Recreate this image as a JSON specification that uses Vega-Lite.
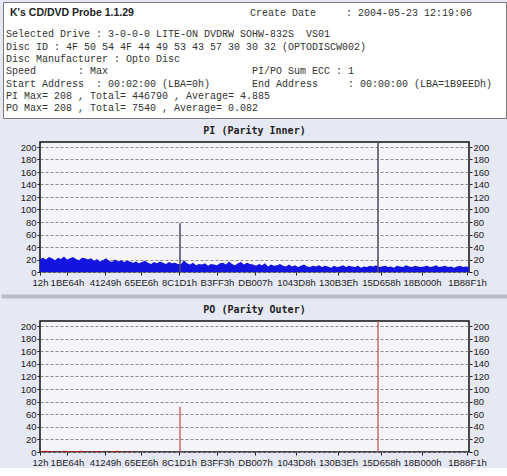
{
  "$schema": "https://vega.github.io/schema/vega-lite/v6.json",
  "background": "#e6e8f3",
  "padding": {"left": 1, "top": 1, "right": 0, "bottom": 0},
  "spacing": 24,
  "center": true,
  "bounds": "flush",
  "config": {
    "view": {"stroke": "#111", "strokeWidth": 1.5, "fill": "#f4f4f9"},
    "axis": {"labelFont": "Liberation Sans", "labelFontSize": 9.5, "labelColor": "#222", "tickColor": "#222", "tickSize": 3, "labelPadding": 1, "domain": false, "grid": false, "title": null}
  },
  "datasets": {
    "pi": [
      {"pos":0,"pi":21},{"pos":3,"pi":23},{"pos":6,"pi":20},{"pos":9,"pi":24},{"pos":12,"pi":22},{"pos":15,"pi":19},{"pos":18,"pi":23},{"pos":21,"pi":21},{"pos":24,"pi":25},{"pos":27,"pi":20},{"pos":30,"pi":22},{"pos":33,"pi":24},{"pos":36,"pi":21},{"pos":39,"pi":19},{"pos":42,"pi":23},{"pos":45,"pi":22},
      {"pos":48,"pi":20},{"pos":51,"pi":22},{"pos":54,"pi":18},{"pos":57,"pi":21},{"pos":60,"pi":17},{"pos":63,"pi":19},{"pos":66,"pi":22},{"pos":69,"pi":18},{"pos":72,"pi":16},{"pos":75,"pi":20},{"pos":78,"pi":17},{"pos":81,"pi":19},{"pos":84,"pi":16},{"pos":87,"pi":18},{"pos":90,"pi":17},
      {"pos":93,"pi":15},{"pos":96,"pi":17},{"pos":99,"pi":14},{"pos":102,"pi":16},{"pos":105,"pi":18},{"pos":108,"pi":15},{"pos":111,"pi":13},{"pos":114,"pi":16},{"pos":117,"pi":14},{"pos":120,"pi":17},{"pos":123,"pi":15},{"pos":126,"pi":13},{"pos":129,"pi":16},{"pos":132,"pi":14},{"pos":135,"pi":15},{"pos":138,"pi":13},
      {"pos":141,"pi":13},{"pos":144,"pi":19},{"pos":147,"pi":14},{"pos":150,"pi":12},{"pos":153,"pi":15},{"pos":156,"pi":11},{"pos":159,"pi":13},{"pos":162,"pi":12},{"pos":165,"pi":14},{"pos":168,"pi":10},{"pos":171,"pi":13},{"pos":174,"pi":12},{"pos":177,"pi":11},{"pos":180,"pi":14},{"pos":183,"pi":15},{"pos":186,"pi":12},{"pos":189,"pi":17},{"pos":192,"pi":13},{"pos":195,"pi":11},{"pos":198,"pi":14},{"pos":201,"pi":16},{"pos":204,"pi":12},{"pos":207,"pi":15},{"pos":210,"pi":13},
      {"pos":213,"pi":12},{"pos":216,"pi":10},{"pos":219,"pi":13},{"pos":222,"pi":11},{"pos":225,"pi":14},{"pos":228,"pi":9},{"pos":231,"pi":12},{"pos":234,"pi":10},{"pos":237,"pi":11},{"pos":240,"pi":13},{"pos":243,"pi":10},{"pos":246,"pi":9},{"pos":249,"pi":12},
      {"pos":252,"pi":9},{"pos":255,"pi":11},{"pos":258,"pi":8},{"pos":261,"pi":10},{"pos":264,"pi":12},{"pos":267,"pi":9},{"pos":270,"pi":8},{"pos":273,"pi":10},{"pos":276,"pi":9},{"pos":279,"pi":11},{"pos":282,"pi":8},{"pos":285,"pi":10},{"pos":288,"pi":9},{"pos":291,"pi":7},{"pos":294,"pi":10},{"pos":297,"pi":8},{"pos":300,"pi":9},{"pos":303,"pi":11},{"pos":306,"pi":8},{"pos":309,"pi":10},
      {"pos":312,"pi":9},{"pos":315,"pi":8},{"pos":318,"pi":10},{"pos":321,"pi":7},{"pos":324,"pi":9},{"pos":327,"pi":8},{"pos":330,"pi":10},{"pos":333,"pi":9},{"pos":336,"pi":11},{"pos":339,"pi":8},{"pos":342,"pi":9},{"pos":345,"pi":10},{"pos":348,"pi":8},{"pos":351,"pi":9},{"pos":354,"pi":7},{"pos":357,"pi":10},{"pos":360,"pi":9},{"pos":363,"pi":8},{"pos":366,"pi":11},{"pos":369,"pi":9},
      {"pos":372,"pi":8},{"pos":375,"pi":10},{"pos":378,"pi":9},{"pos":381,"pi":8},{"pos":384,"pi":9},{"pos":387,"pi":10},{"pos":390,"pi":8},{"pos":393,"pi":9},{"pos":396,"pi":11},{"pos":399,"pi":8},{"pos":402,"pi":9},{"pos":405,"pi":10},{"pos":408,"pi":8},{"pos":411,"pi":9},{"pos":414,"pi":7},{"pos":417,"pi":9},{"pos":420,"pi":10},{"pos":423,"pi":8},{"pos":426,"pi":9},{"pos":429,"pi":8}
    ],
    "pi_spikes": [{"pos":140,"pi":78},{"pos":338,"pi":208}],
    "po": [
      {"pos":0,"po":1},{"pos":6,"po":2},{"pos":12,"po":1},{"pos":18,"po":0},{"pos":24,"po":2},{"pos":30,"po":1},{"pos":36,"po":1},{"pos":42,"po":2},{"pos":48,"po":0},{"pos":54,"po":1},{"pos":60,"po":1},{"pos":66,"po":0},{"pos":72,"po":1},{"pos":78,"po":2},{"pos":84,"po":0},{"pos":90,"po":1},
      {"pos":96,"po":0},{"pos":102,"po":0},{"pos":108,"po":0},{"pos":114,"po":0},{"pos":120,"po":0},{"pos":126,"po":0},{"pos":132,"po":0},{"pos":138,"po":0},{"pos":144,"po":0},{"pos":150,"po":0},{"pos":156,"po":0},{"pos":162,"po":0},{"pos":168,"po":0},{"pos":174,"po":0},{"pos":180,"po":0},{"pos":186,"po":0},{"pos":192,"po":0},{"pos":198,"po":0},{"pos":204,"po":0},{"pos":210,"po":0},{"pos":216,"po":0},{"pos":222,"po":0},{"pos":228,"po":0},{"pos":234,"po":0},{"pos":240,"po":0},{"pos":246,"po":0},{"pos":252,"po":0},{"pos":258,"po":0},{"pos":264,"po":0},{"pos":270,"po":0},{"pos":276,"po":0},{"pos":282,"po":0},{"pos":288,"po":0},{"pos":294,"po":0},{"pos":300,"po":0},{"pos":306,"po":0},{"pos":312,"po":0},{"pos":318,"po":0},{"pos":324,"po":0},{"pos":330,"po":0},{"pos":336,"po":0},{"pos":342,"po":0},{"pos":348,"po":0},{"pos":354,"po":0},{"pos":360,"po":0},{"pos":366,"po":0},{"pos":372,"po":0},{"pos":378,"po":0},{"pos":384,"po":0},{"pos":390,"po":0},{"pos":396,"po":0},{"pos":402,"po":0},{"pos":408,"po":0},{"pos":414,"po":0},{"pos":420,"po":0},{"pos":426,"po":0},{"pos":429,"po":0}
    ],
    "po_spikes": [{"pos":140,"po":72},{"pos":338,"po":208}]
  },
  "vconcat": [
    {
      "width": 503,
      "height": 116,
      "view": {"fill": "#ffffff", "stroke": "#7a7a7a", "strokeWidth": 1},
      "layer": [
        {
          "data": {"values": [
            {"line": 1, "text": "Selected Drive : 3-0-0-0 LITE-ON DVDRW SOHW-832S\u00a0\u00a0VS01"},
            {"line": 2, "text": "Disc ID : 4F 50 54 4F 44 49 53 43 57 30 30 32 (OPTODISCW002)"},
            {"line": 3, "text": "Disc Manufacturer : Opto Disc"},
            {"line": 4, "text": "Speed\u00a0\u00a0\u00a0\u00a0\u00a0\u00a0\u00a0: Max\u00a0\u00a0\u00a0\u00a0\u00a0\u00a0\u00a0\u00a0\u00a0\u00a0\u00a0\u00a0\u00a0\u00a0\u00a0\u00a0\u00a0\u00a0\u00a0\u00a0\u00a0\u00a0\u00a0\u00a0PI/PO Sum ECC : 1"},
            {"line": 5, "text": "Start Address\u00a0\u00a0: 00:02:00 (LBA=0h)\u00a0\u00a0\u00a0\u00a0\u00a0\u00a0\u00a0End Address\u00a0\u00a0\u00a0\u00a0\u00a0: 00:00:00 (LBA=1B9EEDh)"},
            {"line": 6, "text": "PI Max= 208 , Total= 446790 , Average= 4.885"},
            {"line": 7, "text": "PO Max= 208 , Total= 7540 , Average= 0.082"}
          ]},
          "mark": {"type": "text", "align": "left", "baseline": "middle", "x": 3, "font": "Liberation Mono", "fontSize": 10, "color": "#333"},
          "encoding": {
            "y": {"field": "line", "type": "quantitative", "scale": {"domain": [-1.62, 7.79], "reverse": true, "nice": false, "zero": false}, "axis": null},
            "text": {"field": "text"}
          }
        },
        {
          "data": {"values": [
            {"line": 0, "text": "Create Date\u00a0\u00a0\u00a0\u00a0\u00a0: 2004-05-23 12:19:06"}
          ]},
          "mark": {"type": "text", "align": "right", "baseline": "middle", "x": 469, "dy": -9, "font": "Liberation Mono", "fontSize": 10, "color": "#333"},
          "encoding": {
            "y": {"field": "line", "type": "quantitative", "scale": {"domain": [-1.62, 7.79], "reverse": true, "nice": false, "zero": false}, "axis": null},
            "text": {"field": "text"}
          }
        },
        {
          "data": {"values": [{"line": 0, "text": "K's CD/DVD Probe 1.1.29"}]},
          "mark": {"type": "text", "align": "left", "baseline": "middle", "x": 7, "dy": -9, "font": "Liberation Sans", "fontWeight": "bold", "fontSize": 10.5, "color": "#222"},
          "encoding": {
            "y": {"field": "line", "type": "quantitative", "scale": {"domain": [-1.62, 7.79], "reverse": true, "nice": false, "zero": false}, "axis": null},
            "text": {"field": "text"}
          }
        }
      ]
    },
    {
      "width": 429,
      "height": 130,
      "title": {"text": "PI (Parity Inner)", "font": "DejaVu Sans Mono", "fontWeight": "bold", "fontSize": 10, "color": "#222", "offset": -5, "anchor": "middle", "baseline": "bottom"},
      "layer": [
        {
          "data": {"name": "pi"},
          "mark": {"type": "area", "color": "#1414e0", "interpolate": "linear"},
          "encoding": {
            "x": {"field": "pos", "type": "quantitative", "scale": {"domain": [0, 429], "nice": false, "zero": false},
              "axis": {"orient": "bottom", "values": [0,27,65,101,139,177,215,256,298,341,382,427], "labelExpr": "['12h','1BE64h','41249h','65EE6h','8C1D1h','B3FF3h','DB007h','1043D8h','130B3Eh','15D658h','18B000h','1B88F1h'][indexof([0,27,65,101,139,177,215,256,298,341,382,427], datum.value)]", "labelOverlap": false, "labelBound": false, "labelFlush": false, "labelPadding": 2}},
            "y": {"field": "pi", "type": "quantitative", "scale": {"domain": [0, 208], "nice": false},
              "axis": {"orient": "left", "values": [0,20,40,60,80,100,120,140,160,180,200], "grid": true, "gridDash": [3, 2], "gridColor": "#8c8c8c", "gridWidth": 1}}
          }
        },
        {
          "data": {"name": "pi_spikes"},
          "mark": {"type": "rule", "color": "#4a4a66", "strokeWidth": 1.5},
          "encoding": {
            "x": {"field": "pos", "type": "quantitative", "axis": null},
            "y": {"field": "pi", "type": "quantitative", "axis": {"orient": "right", "values": [0,20,40,60,80,100,120,140,160,180,200]}},
            "y2": {"datum": 0}
          }
        }
      ],
      "resolve": {"axis": {"x": "independent", "y": "independent"}}
    },
    {
      "width": 503,
      "height": 1,
      "view": {"stroke": "#b9bbc8", "strokeWidth": 3, "fill": null},
      "data": {"values": []},
      "mark": "point"
    },
    {
      "width": 429,
      "height": 131,
      "title": {"text": "PO (Parity Outer)", "font": "DejaVu Sans Mono", "fontWeight": "bold", "fontSize": 10, "color": "#222", "offset": -5, "anchor": "middle", "baseline": "bottom"},
      "layer": [
        {
          "data": {"name": "po"},
          "mark": {"type": "area", "color": "#b02020", "interpolate": "linear"},
          "encoding": {
            "x": {"field": "pos", "type": "quantitative", "scale": {"domain": [0, 429], "nice": false, "zero": false},
              "axis": {"orient": "bottom", "values": [0,27,65,101,139,177,215,256,298,341,382,427], "labelExpr": "['12h','1BE64h','41249h','65EE6h','8C1D1h','B3FF3h','DB007h','1043D8h','130B3Eh','15D658h','18B000h','1B88F1h'][indexof([0,27,65,101,139,177,215,256,298,341,382,427], datum.value)]", "labelOverlap": false, "labelBound": false, "labelFlush": false, "labelPadding": 2}},
            "y": {"field": "po", "type": "quantitative", "scale": {"domain": [0, 208], "nice": false},
              "axis": {"orient": "left", "values": [0,20,40,60,80,100,120,140,160,180,200], "grid": true, "gridDash": [3, 2], "gridColor": "#8c8c8c", "gridWidth": 1}}
          }
        },
        {
          "data": {"name": "po_spikes"},
          "mark": {"type": "rule", "color": "#c04848", "strokeWidth": 1.2},
          "encoding": {
            "x": {"field": "pos", "type": "quantitative", "axis": null},
            "y": {"field": "po", "type": "quantitative", "axis": {"orient": "right", "values": [0,20,40,60,80,100,120,140,160,180,200]}},
            "y2": {"datum": 0}
          }
        }
      ],
      "resolve": {"axis": {"x": "independent", "y": "independent"}}
    }
  ]
}
